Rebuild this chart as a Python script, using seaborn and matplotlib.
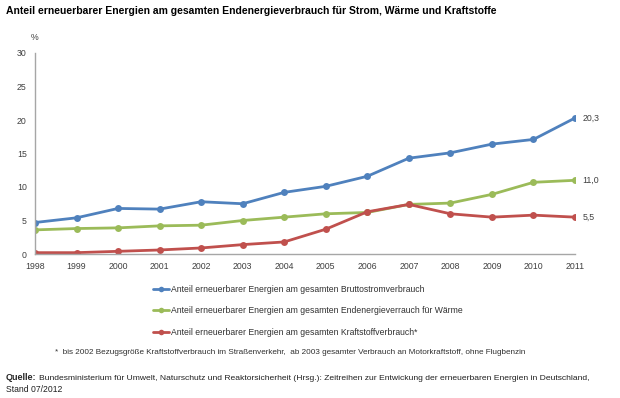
import matplotlib
matplotlib.use("Agg")
import matplotlib.pyplot as plt
import seaborn as sns
import pandas as pd
from matplotlib.lines import Line2D

years = list(range(1998, 2012))
strom = [4.7, 5.4, 6.8, 6.7, 7.8, 7.5, 9.2, 10.1, 11.6, 14.3, 15.1, 16.4, 17.1, 20.3]
waerme = [3.6, 3.8, 3.9, 4.2, 4.3, 5.0, 5.5, 6.0, 6.2, 7.4, 7.6, 8.9, 10.7, 11.0]
kraft = [0.2, 0.2, 0.4, 0.6, 0.9, 1.4, 1.8, 3.7, 6.3, 7.4, 6.0, 5.5, 5.8, 5.5]
series_names = [
    "Anteil erneuerbarer Energien am gesamten Bruttostromverbrauch",
    "Anteil erneuerbarer Energien am gesamten Endenergieverrauch für Wärme",
    "Anteil erneuerbarer Energien am gesamten Kraftstoffverbrauch*",
]
end_labels = ["20,3", "11,0", "5,5"]
yticks = [0, 5, 10, 15, 20, 25, 30]
colors = ["#4F81BD", "#9BBB59", "#C0504D"]

sns.set_style("white")
plt.rcParams["font.family"] = ["Liberation Sans", "DejaVu Sans"]

rows = []
for name, vals in zip(series_names, [strom, waerme, kraft]):
    for y, v in zip(years, vals):
        rows.append({"Jahr": y, "Wert": v, "Serie": name})
df = pd.DataFrame(rows)

fig = plt.figure(figsize=(6.2, 3.98), dpi=100)
ax = fig.add_axes([35 / 620, 1 - 254 / 398, 540 / 620, 201 / 398])

sns.lineplot(data=df, x="Jahr", y="Wert", hue="Serie", palette=colors,
             marker="o", markersize=5, markeredgewidth=0, linewidth=2,
             ax=ax, legend=False)

ax.set_xlim(1998, 2011)
ax.set_ylim(0, 30)
ax.set_xticks(years)
ax.set_xticklabels([str(y) for y in years], fontsize=6.3, color="#404040")
ax.set_yticks(yticks)
ax.set_yticklabels([str(t) for t in yticks], fontsize=6.3, color="#404040")
ax.set_xlabel("")
ax.set_ylabel("")
for s in ["top", "right"]:
    ax.spines[s].set_visible(False)
for s in ["left", "bottom"]:
    ax.spines[s].set_color("#A6A6A6")
    ax.spines[s].set_linewidth(1)
ax.tick_params(axis="both", length=3, color="#A6A6A6", width=1, pad=3)

for vals, lab in zip([strom, waerme, kraft], end_labels):
    ax.annotate(lab, xy=(years[-1], vals[-1]), xytext=(5.5, 0), textcoords="offset points",
                va="center", ha="left", fontsize=6.3, color="#404040", annotation_clip=False)

fig.text(35 / 620, 1 - 37 / 398, "%", fontsize=6.3, color="#404040", va="center", ha="center")
fig.text(6 / 620, 1 - 11 / 398,
         "Anteil erneuerbarer Energien am gesamten Endenergieverbrauch für Strom, Wärme und Kraftstoffe",
         fontsize=7.5, fontweight="bold", va="center", ha="left", color="#000000")

handles = [Line2D([0], [0], color=c, lw=2, marker="o", markersize=4, markeredgewidth=0) for c in colors]
fig.legend(handles, series_names, loc="upper left", bbox_to_anchor=(153 / 620, 1 - 285 / 398),
           frameon=False, fontsize=6.2, labelspacing=1.45, handlelength=1.9, handletextpad=0.2,
           borderaxespad=0, borderpad=0, labelcolor="#303030")

fig.text(55 / 620, 1 - 352 / 398,
         "*  bis 2002 Bezugsgröße Kraftstoffverbrauch im Straßenverkehr,  ab 2003 gesamter Verbrauch an Motorkraftstoff, ohne Flugbenzin",
         fontsize=5.9, va="center", ha="left", color="#303030")
fig.text(6 / 620, 1 - 378 / 398, "Quelle:", fontsize=6.5, fontweight="bold", va="center", ha="left")
fig.text(39 / 620, 1 - 378 / 398,
         "Bundesministerium für Umwelt, Naturschutz und Reaktorsicherheit (Hrsg.): Zeitreihen zur Entwickung der erneuerbaren Energien in Deutschland,",
         fontsize=6.1, va="center", ha="left", color="#202020")
fig.text(6 / 620, 1 - 390 / 398, "Stand 07/2012", fontsize=6.2, va="center", ha="left", color="#202020")

fig.savefig("out.png", dpi=100)
